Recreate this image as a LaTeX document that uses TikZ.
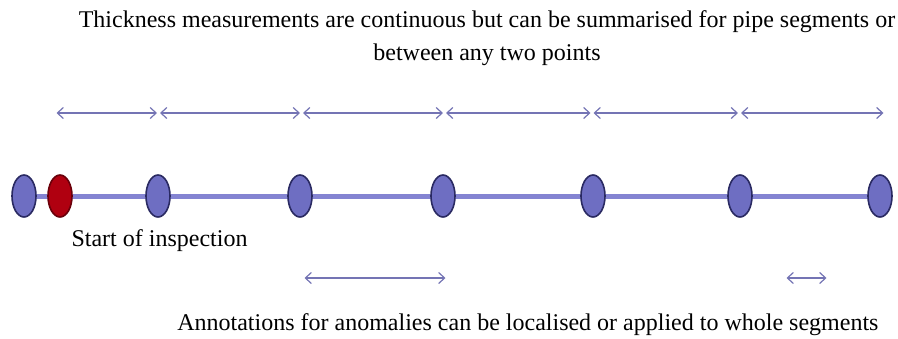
\documentclass[tikz,border=0pt]{standalone}
\usepackage{fontspec}
\setmainfont{Liberation Serif}
\usetikzlibrary{shapes.geometric, arrows, arrows.meta}

\definecolor{pipeblue}{HTML}{8484D2}
\definecolor{markfill}{HTML}{6E6EC2}
\definecolor{markline}{HTML}{2A2A62}
\definecolor{arrowcol}{HTML}{7474B4}
\definecolor{startred}{HTML}{B00010}

\tikzset{
  pipe/.style={draw=pipeblue, line width=5pt},
  marker/.style={ellipse, draw=markline, fill=markfill, line width=1.6pt, minimum width=24pt, minimum height=42pt, inner sep=0pt},
  span/.style={{Straight Barb[length=6pt,width=11pt]}-{Straight Barb[length=6pt,width=11pt]}, draw=arrowcol, line width=1.2pt, shorten >=1.5pt, shorten <=1.5pt},
  label/.style={font=\fontsize{24}{33}\selectfont, align=center}
}

\begin{document}
\begin{tikzpicture}[x=1pt, y=-1pt]
\useasboundingbox (0,0) rectangle (898,338);
\node[label] (top) at (487,38) {Thickness measurements are continuous but can be summarised for pipe segments or\\between any two points};
\coordinate (s) at (24,196);
\coordinate (e) at (880,196);
\draw[pipe] (s)--(e);
\foreach \x/\name in {24/m0,158/m1,300/m2,443/m3,593/m4,740/m5,880/m6} \node[marker] (\name) at (\x,196) {};
\node[marker, fill=startred, draw=startred!60!black] (start) at (60,196) {};
\foreach \x/\name in {55/t0,158.5/t1,301.5/t2,444.5/t3,592/t4,739.5/t5,885/t6} \coordinate (\name) at (\x,113);
\draw[span] (t0)--(t1); \draw[span] (t1)--(t2); \draw[span] (t2)--(t3);
\draw[span] (t3)--(t4); \draw[span] (t4)--(t5); \draw[span] (t5)--(t6);
\node[label, anchor=west] (insp) at (68,241) {Start of inspection};
\coordinate (a0) at (303,278); \coordinate (a1) at (447,278);
\coordinate (b0) at (785,278); \coordinate (b1) at (828,278);
\draw[span] (a0)--(a1); \draw[span] (b0)--(b1);
\node[label, anchor=east] (notes) at (882,325) {Annotations for anomalies can be localised or applied to whole segments};
\end{tikzpicture}
\end{document}
